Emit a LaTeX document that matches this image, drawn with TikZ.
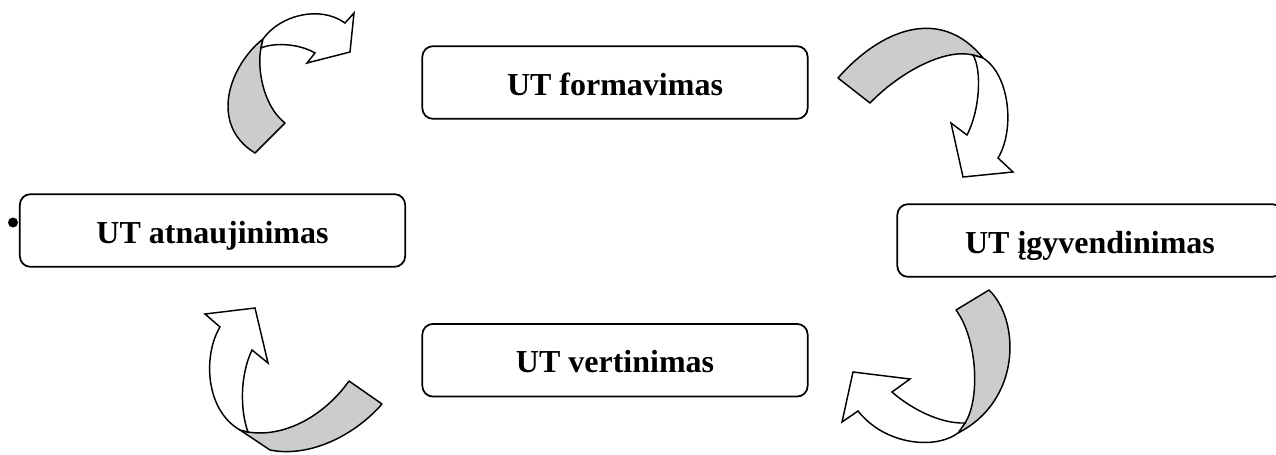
\documentclass[tikz,border=0pt]{standalone}
\usepackage{fontspec}
\setmainfont{Liberation Serif}
\usetikzlibrary{positioning}

\begin{document}
\begin{tikzpicture}[
        x=0.75pt,y=-0.75pt,
        stage/.style={
          draw,line width=1.3pt,
          rounded corners=8pt,
          minimum width=289pt,
          minimum height=54.5pt,
          font=\fontsize{24}{28}\selectfont\bfseries,
          text height=23pt,text depth=4pt
        },
        band/.style={draw,line width=1.1pt,line join=round,fill=black!20},
        shaft/.style={draw,line width=1.1pt,line join=miter,fill=white},
      ]
      \useasboundingbox (0,0) rectangle (1276,454);
      \node[stage] (form) at (615,82.5) {UT formavimas};
      \node[stage,below=152.5pt of form] (vert) {UT vertinimas};
      \node[stage] (atn) at (212.5,230.5) {UT atnaujinimas};
      \node[stage] (igy) at (1090,240.5) {UT įgyvendinimas};
      \node[circle,fill,inner sep=0pt,minimum size=7.5pt] (dot) at (13,222.5) {};

      \draw[band] (838,78) .. controls (880,30) and (940,5) .. (983,58)
        -- (973,55) .. controls (945,48) and (900,72) .. (870,103) -- cycle;
      \draw[shaft] (973,55) -- (983,58) .. controls (1010,75) and (1015,130) .. (998,158)
        -- (1013,172) -- (963,177) -- (951,123) -- (967,135)
        .. controls (980,110) and (982,70) .. (973,55) -- cycle;

      \draw[band] (956,310) -- (989,290) .. controls (1020,320) and (1022,400) .. (958,433)
        -- (965,423) .. controls (980,400) and (978,340) .. (956,310) -- cycle;
      \draw[shaft] (958,433) .. controls (935,450) and (885,445) .. (858,411)
        -- (842,422) -- (853,372) -- (910,379) -- (892,392)
        .. controls (910,408) and (940,424) .. (965,423) -- cycle;

      \draw[band] (240,430) -- (248,432) .. controls (285,438) and (325,415) .. (349,381)
        -- (382,404) .. controls (355,435) and (310,458) .. (270,450) -- cycle;
      \draw[shaft] (240,430) .. controls (205,410) and (203,355) .. (220,327)
        -- (205,314) -- (255,308) -- (268,363) -- (252,350)
        .. controls (240,375) and (240,410) .. (248,432) -- cycle;

      \draw[band] (263,39) .. controls (230,65) and (208,124) .. (255,153)
        -- (285,123) .. controls (262,105) and (257,66) .. (261,48) -- cycle;
      \draw[shaft] (263,39) .. controls (280,15) and (320,5) .. (345,23)
        -- (354,13) -- (350,52) -- (307,63) -- (315,53)
        .. controls (300,44) and (275,42) .. (261,48) -- cycle;
    \end{tikzpicture}
\end{document}
